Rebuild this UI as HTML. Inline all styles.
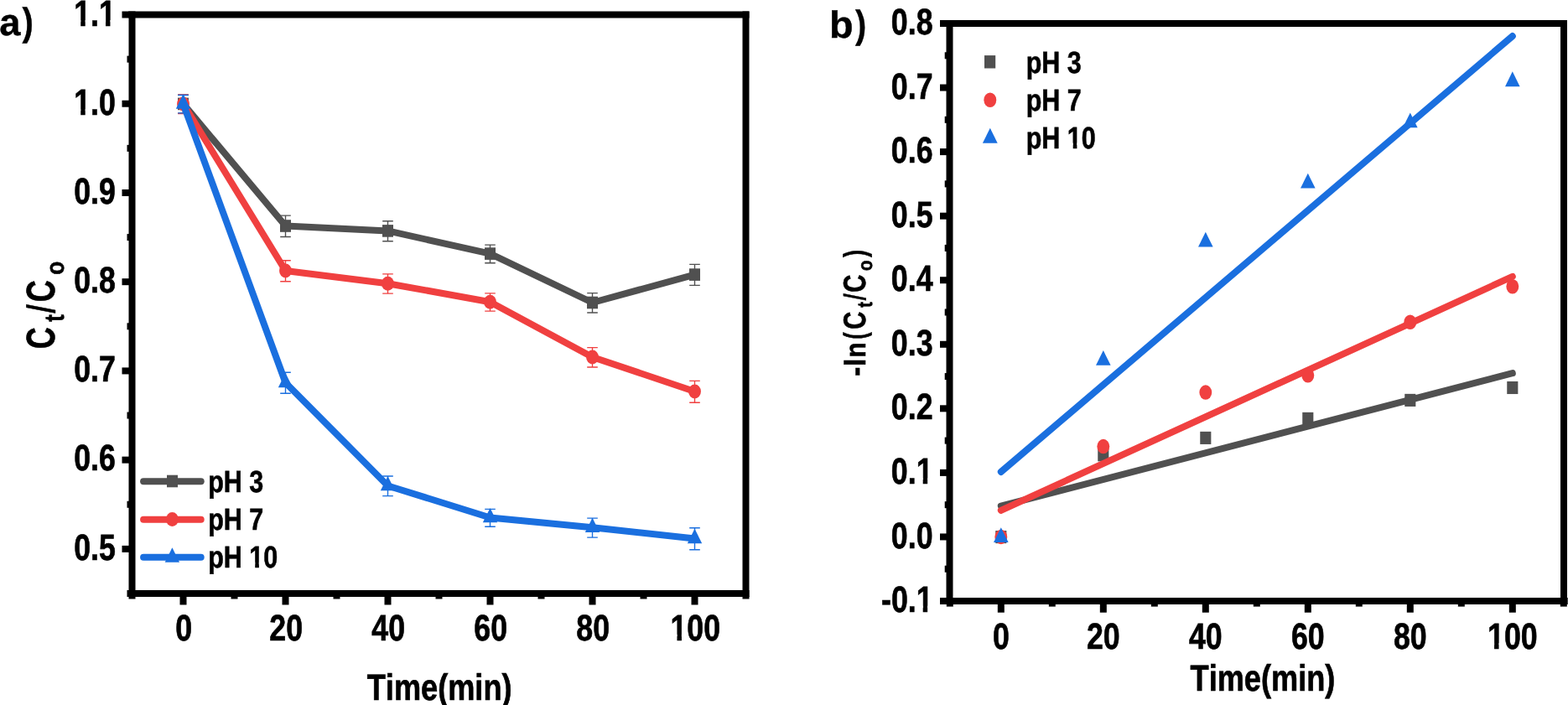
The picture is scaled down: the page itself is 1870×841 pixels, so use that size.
<!DOCTYPE html>
<html lang="en">
<head>
<meta charset="utf-8">
<title>Effect of pH: Ct/Co and -ln(Ct/Co) versus time</title>
<style>
html,body{margin:0;padding:0;background:#fff;}
body{width:1870px;height:841px;overflow:hidden;}
svg{display:block;}
text{font-family:"Liberation Sans",Arial,Helvetica,sans-serif;font-weight:bold;fill:#000;font-kerning:none;stroke-linejoin:miter;text-rendering:geometricPrecision;}
</style>
</head>
<body>
<svg width="1870" height="841" viewBox="0 0 1870 841">
<rect x="0" y="0" width="1870" height="841" fill="#fff"/>
<rect x="145.50" y="13.50" width="8.50" height="8.00" fill="#000"/>
<rect x="145.50" y="119.73" width="8.50" height="8.00" fill="#000"/>
<rect x="145.50" y="225.96" width="8.50" height="8.00" fill="#000"/>
<rect x="145.50" y="332.19" width="8.50" height="8.00" fill="#000"/>
<rect x="145.50" y="438.42" width="8.50" height="8.00" fill="#000"/>
<rect x="145.50" y="544.65" width="8.50" height="8.00" fill="#000"/>
<rect x="145.50" y="650.88" width="8.50" height="8.00" fill="#000"/>
<rect x="151.50" y="66.62" width="2.50" height="8.00" fill="#000"/>
<rect x="151.50" y="172.85" width="2.50" height="8.00" fill="#000"/>
<rect x="151.50" y="279.08" width="2.50" height="8.00" fill="#000"/>
<rect x="151.50" y="385.31" width="2.50" height="8.00" fill="#000"/>
<rect x="151.50" y="491.54" width="2.50" height="8.00" fill="#000"/>
<rect x="151.50" y="597.77" width="2.50" height="8.00" fill="#000"/>
<rect x="151.50" y="704.00" width="2.50" height="8.00" fill="#000"/>
<rect x="214.50" y="711.00" width="8.00" height="10.50" fill="#000"/>
<rect x="336.50" y="711.00" width="8.00" height="10.50" fill="#000"/>
<rect x="458.50" y="711.00" width="8.00" height="10.50" fill="#000"/>
<rect x="580.50" y="711.00" width="8.00" height="10.50" fill="#000"/>
<rect x="702.50" y="711.00" width="8.00" height="10.50" fill="#000"/>
<rect x="824.50" y="711.00" width="8.00" height="10.50" fill="#000"/>
<rect x="153.50" y="711.00" width="8.00" height="3.50" fill="#000"/>
<rect x="275.50" y="711.00" width="8.00" height="3.50" fill="#000"/>
<rect x="397.50" y="711.00" width="8.00" height="3.50" fill="#000"/>
<rect x="519.50" y="711.00" width="8.00" height="3.50" fill="#000"/>
<rect x="641.50" y="711.00" width="8.00" height="3.50" fill="#000"/>
<rect x="763.50" y="711.00" width="8.00" height="3.50" fill="#000"/>
<rect x="885.50" y="711.00" width="8.00" height="3.50" fill="#000"/>
<rect x="153.50" y="13.50" width="740.00" height="8.00" fill="#000"/>
<rect x="153.50" y="704.00" width="740.00" height="8.00" fill="#000"/>
<rect x="153.50" y="13.50" width="8.00" height="698.50" fill="#000"/>
<rect x="885.50" y="13.50" width="8.00" height="698.50" fill="#000"/>
<g transform="translate(137.80 30.85) scale(0.8150 1)">
<text font-size="43.80" text-anchor="end" stroke="#000" stroke-width="0.7">1.1</text>
<rect x="-60.48" y="-6.82" width="9.46" height="9.17" fill="#fff"/>
<rect x="-44.31" y="-6.82" width="8.91" height="9.17" fill="#fff"/>
<rect x="-23.95" y="-6.82" width="9.46" height="9.17" fill="#fff"/>
<rect x="-7.78" y="-6.82" width="8.91" height="9.17" fill="#fff"/>
</g>
<g transform="translate(137.80 137.08) scale(0.8150 1)">
<text font-size="43.80" text-anchor="end" stroke="#000" stroke-width="0.7">1.0</text>
<rect x="-60.48" y="-6.82" width="9.46" height="9.17" fill="#fff"/>
<rect x="-44.31" y="-6.82" width="8.91" height="9.17" fill="#fff"/>
</g>
<text transform="translate(137.80 243.31) scale(0.8150 1)" font-size="43.80" text-anchor="end" stroke="#000" stroke-width="0.7">0.9</text>
<text transform="translate(137.80 348.64) scale(0.8150 1)" font-size="43.80" text-anchor="end" stroke="#000" stroke-width="0.7">0.8</text>
<text transform="translate(137.80 455.02) scale(0.8150 1)" font-size="43.80" text-anchor="end" stroke="#000" stroke-width="0.7">0.7</text>
<text transform="translate(137.80 561.05) scale(0.8150 1)" font-size="43.80" text-anchor="end" stroke="#000" stroke-width="0.7">0.6</text>
<text transform="translate(137.80 668.23) scale(0.8150 1)" font-size="43.80" text-anchor="end" stroke="#000" stroke-width="0.7">0.5</text>
<text transform="translate(219.20 763.60) scale(0.8150 1)" font-size="43.80" text-anchor="middle" stroke="#000" stroke-width="0.7">0</text>
<text transform="translate(341.20 763.60) scale(0.8150 1)" font-size="43.80" text-anchor="middle" stroke="#000" stroke-width="0.7">20</text>
<text transform="translate(463.20 763.60) scale(0.8150 1)" font-size="43.80" text-anchor="middle" stroke="#000" stroke-width="0.7">40</text>
<text transform="translate(585.20 763.60) scale(0.8150 1)" font-size="43.80" text-anchor="middle" stroke="#000" stroke-width="0.7">60</text>
<text transform="translate(707.20 763.60) scale(0.8150 1)" font-size="43.80" text-anchor="middle" stroke="#000" stroke-width="0.7">80</text>
<g transform="translate(829.20 763.60) scale(0.8150 1)">
<text font-size="43.80" text-anchor="middle" stroke="#000" stroke-width="0.7">100</text>
<rect x="-36.13" y="-6.82" width="9.46" height="9.17" fill="#fff"/>
<rect x="-19.96" y="-6.82" width="8.91" height="9.17" fill="#fff"/>
</g>
<text transform="translate(524.15 834.65) scale(0.8220 1)" font-size="44.00" text-anchor="middle" stroke="#000" stroke-width="0.7">Time(min)</text>
<g role="img" aria-label="a)"><text transform="translate(-0.72 41.76) scale(1.0025 1)" font-size="45.09" stroke="#000" stroke-width="0.4">a</text><text transform="translate(26.43 42.16) scale(0.8586 1)" font-size="46.45" stroke="#000" stroke-width="0.4">)</text></g>
<g role="img" aria-label="Ct/Co"><text transform="translate(65.13 416.27) rotate(-90) scale(0.7485 1)" font-size="48.02" stroke="#000" stroke-width="0.6">C</text><text transform="translate(75.66 383.71) rotate(-90) scale(0.7904 1)" font-size="32.60" stroke="#000" stroke-width="0.6">t</text><text transform="translate(64.87 373.87) rotate(-90) skewX(-4.20) scale(0.6446 1)" font-size="46.33" stroke="#000" stroke-width="0.6">/</text><text transform="translate(65.13 360.33) rotate(-90) scale(0.7501 1)" font-size="48.02" stroke="#000" stroke-width="0.6">C</text><text transform="translate(75.66 327.72) rotate(-90) scale(0.8695 1)" font-size="30.12" stroke="#000" stroke-width="0.6">o</text></g>
<polyline points="218.50,123.90 340.50,269.50 462.50,275.40 584.50,302.60 706.50,361.00 828.50,327.60" fill="none" stroke="#505050" stroke-width="8" stroke-linejoin="round" stroke-linecap="butt"/>
<path d="M218.50 113.20V135.20M212.20 113.20h12.6M212.20 135.20h12.6" stroke="#505050" stroke-width="1.4" fill="none"/>
<rect x="212.00" y="116.60" width="13.00" height="14.60" fill="#505050"/>
<path d="M340.50 257.10V282.50M334.20 257.10h12.6M334.20 282.50h12.6" stroke="#505050" stroke-width="1.4" fill="none"/>
<rect x="334.00" y="262.20" width="13.00" height="14.60" fill="#505050"/>
<path d="M462.50 263.70V287.70M456.20 263.70h12.6M456.20 287.70h12.6" stroke="#505050" stroke-width="1.4" fill="none"/>
<rect x="456.00" y="268.10" width="13.00" height="14.60" fill="#505050"/>
<path d="M584.50 292.10V313.70M578.20 292.10h12.6M578.20 313.70h12.6" stroke="#505050" stroke-width="1.4" fill="none"/>
<rect x="578.00" y="295.30" width="13.00" height="14.60" fill="#505050"/>
<path d="M706.50 349.60V373.00M700.20 349.60h12.6M700.20 373.00h12.6" stroke="#505050" stroke-width="1.4" fill="none"/>
<rect x="700.00" y="353.70" width="13.00" height="14.60" fill="#505050"/>
<path d="M828.50 315.40V340.40M822.20 315.40h12.6M822.20 340.40h12.6" stroke="#505050" stroke-width="1.4" fill="none"/>
<rect x="822.00" y="320.30" width="13.00" height="14.60" fill="#505050"/>
<polyline points="218.50,123.90 340.50,323.00 462.50,338.20 584.50,360.20 706.50,426.00 828.50,467.00" fill="none" stroke="#f04040" stroke-width="8" stroke-linejoin="round" stroke-linecap="butt"/>
<path d="M218.50 112.90V135.50M212.20 112.90h12.6M212.20 135.50h12.6" stroke="#f04040" stroke-width="1.4" fill="none"/>
<ellipse cx="218.50" cy="123.90" rx="7.45" ry="8.5" fill="#f04040"/>
<path d="M340.50 310.80V335.80M334.20 310.80h12.6M334.20 335.80h12.6" stroke="#f04040" stroke-width="1.4" fill="none"/>
<ellipse cx="340.50" cy="323.00" rx="7.45" ry="8.5" fill="#f04040"/>
<path d="M462.50 326.90V350.10M456.20 326.90h12.6M456.20 350.10h12.6" stroke="#f04040" stroke-width="1.4" fill="none"/>
<ellipse cx="462.50" cy="338.20" rx="7.45" ry="8.5" fill="#f04040"/>
<path d="M584.50 349.90V371.10M578.20 349.90h12.6M578.20 371.10h12.6" stroke="#f04040" stroke-width="1.4" fill="none"/>
<ellipse cx="584.50" cy="360.20" rx="7.45" ry="8.5" fill="#f04040"/>
<path d="M706.50 414.60V438.00M700.20 414.60h12.6M700.20 438.00h12.6" stroke="#f04040" stroke-width="1.4" fill="none"/>
<ellipse cx="706.50" cy="426.00" rx="7.45" ry="8.5" fill="#f04040"/>
<path d="M828.50 454.40V480.20M822.20 454.40h12.6M822.20 480.20h12.6" stroke="#f04040" stroke-width="1.4" fill="none"/>
<ellipse cx="828.50" cy="467.00" rx="7.45" ry="8.5" fill="#f04040"/>
<polyline points="218.50,123.90 340.50,456.50 462.50,579.50 584.50,617.50 706.50,629.30 828.50,642.40" fill="none" stroke="#1a6fdf" stroke-width="8" stroke-linejoin="round" stroke-linecap="butt"/>
<path d="M218.50 113.50V134.90M212.20 113.50h12.6M212.20 134.90h12.6" stroke="#1a6fdf" stroke-width="1.4" fill="none"/>
<polygon points="218.50,112.30 227.20,129.70 209.80,129.70" fill="#1a6fdf"/>
<path d="M340.50 444.30V469.30M334.20 444.30h12.6M334.20 469.30h12.6" stroke="#1a6fdf" stroke-width="1.4" fill="none"/>
<polygon points="340.50,444.90 349.20,462.30 331.80,462.30" fill="#1a6fdf"/>
<path d="M462.50 568.00V591.60M456.20 568.00h12.6M456.20 591.60h12.6" stroke="#1a6fdf" stroke-width="1.4" fill="none"/>
<polygon points="462.50,567.90 471.20,585.30 453.80,585.30" fill="#1a6fdf"/>
<path d="M584.50 607.40V628.20M578.20 607.40h12.6M578.20 628.20h12.6" stroke="#1a6fdf" stroke-width="1.4" fill="none"/>
<polygon points="584.50,605.90 593.20,623.30 575.80,623.30" fill="#1a6fdf"/>
<path d="M706.50 618.10V641.10M700.20 618.10h12.6M700.20 641.10h12.6" stroke="#1a6fdf" stroke-width="1.4" fill="none"/>
<polygon points="706.50,617.70 715.20,635.10 697.80,635.10" fill="#1a6fdf"/>
<path d="M828.50 629.70V655.70M822.20 629.70h12.6M822.20 655.70h12.6" stroke="#1a6fdf" stroke-width="1.4" fill="none"/>
<polygon points="828.50,630.80 837.20,648.20 819.80,648.20" fill="#1a6fdf"/>
<line x1="171.1" y1="574.2" x2="239.7" y2="574.2" stroke="#505050" stroke-width="8" stroke-linecap="round"/>
<rect x="199.00" y="566.70" width="13.00" height="14.60" fill="#505050"/>
<line x1="171.1" y1="619.7" x2="239.7" y2="619.7" stroke="#f04040" stroke-width="8" stroke-linecap="round"/>
<ellipse cx="205.40" cy="619.40" rx="7.45" ry="8.5" fill="#f04040"/>
<line x1="171.1" y1="664.7" x2="239.7" y2="664.7" stroke="#1a6fdf" stroke-width="8" stroke-linecap="round"/>
<polygon points="205.40,653.30 214.10,670.70 196.70,670.70" fill="#1a6fdf"/>
<text transform="translate(248.25 586.60) scale(0.8350 1)" font-size="36.50" text-anchor="start" stroke="#000" stroke-width="0.6">pH 3</text>
<text transform="translate(248.25 631.50) scale(0.8350 1)" font-size="36.50" text-anchor="start" stroke="#000" stroke-width="0.6">pH 7</text>
<g transform="translate(248.25 676.60) scale(0.8350 1)">
<text font-size="36.50" text-anchor="start" stroke="#000" stroke-width="0.6">pH 10</text>
<rect x="58.79" y="-6.02" width="8.22" height="8.32" fill="#fff"/>
<rect x="72.62" y="-6.02" width="7.52" height="8.32" fill="#fff"/>
</g>
<rect x="1121.00" y="24.00" width="8.00" height="8.00" fill="#000"/>
<rect x="1121.00" y="100.56" width="8.00" height="8.00" fill="#000"/>
<rect x="1121.00" y="177.11" width="8.00" height="8.00" fill="#000"/>
<rect x="1121.00" y="253.67" width="8.00" height="8.00" fill="#000"/>
<rect x="1121.00" y="330.22" width="8.00" height="8.00" fill="#000"/>
<rect x="1121.00" y="406.78" width="8.00" height="8.00" fill="#000"/>
<rect x="1121.00" y="483.33" width="8.00" height="8.00" fill="#000"/>
<rect x="1121.00" y="559.89" width="8.00" height="8.00" fill="#000"/>
<rect x="1121.00" y="636.44" width="8.00" height="8.00" fill="#000"/>
<rect x="1121.00" y="713.00" width="8.00" height="8.00" fill="#000"/>
<rect x="1126.70" y="62.28" width="2.30" height="8.00" fill="#000"/>
<rect x="1126.70" y="138.83" width="2.30" height="8.00" fill="#000"/>
<rect x="1126.70" y="215.39" width="2.30" height="8.00" fill="#000"/>
<rect x="1126.70" y="291.94" width="2.30" height="8.00" fill="#000"/>
<rect x="1126.70" y="368.50" width="2.30" height="8.00" fill="#000"/>
<rect x="1126.70" y="445.06" width="2.30" height="8.00" fill="#000"/>
<rect x="1126.70" y="521.61" width="2.30" height="8.00" fill="#000"/>
<rect x="1126.70" y="598.17" width="2.30" height="8.00" fill="#000"/>
<rect x="1126.70" y="674.72" width="2.30" height="8.00" fill="#000"/>
<rect x="1189.80" y="720.00" width="8.00" height="10.70" fill="#000"/>
<rect x="1311.80" y="720.00" width="8.00" height="10.70" fill="#000"/>
<rect x="1433.80" y="720.00" width="8.00" height="10.70" fill="#000"/>
<rect x="1555.80" y="720.00" width="8.00" height="10.70" fill="#000"/>
<rect x="1677.80" y="720.00" width="8.00" height="10.70" fill="#000"/>
<rect x="1799.80" y="720.00" width="8.00" height="10.70" fill="#000"/>
<rect x="1128.80" y="720.00" width="8.00" height="3.60" fill="#000"/>
<rect x="1250.80" y="720.00" width="8.00" height="3.60" fill="#000"/>
<rect x="1372.80" y="720.00" width="8.00" height="3.60" fill="#000"/>
<rect x="1494.80" y="720.00" width="8.00" height="3.60" fill="#000"/>
<rect x="1616.80" y="720.00" width="8.00" height="3.60" fill="#000"/>
<rect x="1738.80" y="720.00" width="8.00" height="3.60" fill="#000"/>
<rect x="1860.80" y="720.00" width="8.00" height="3.60" fill="#000"/>
<rect x="1128.50" y="24.00" width="740.50" height="8.00" fill="#000"/>
<rect x="1128.50" y="713.00" width="741.20" height="8.00" fill="#000"/>
<rect x="1128.50" y="24.00" width="8.00" height="697.00" fill="#000"/>
<rect x="1861.00" y="24.00" width="8.00" height="697.00" fill="#000"/>
<text transform="translate(1112.50 40.50) scale(0.8150 1)" font-size="43.80" text-anchor="end" stroke="#000" stroke-width="0.7">0.8</text>
<text transform="translate(1112.50 117.96) scale(0.8150 1)" font-size="43.80" text-anchor="end" stroke="#000" stroke-width="0.7">0.7</text>
<text transform="translate(1112.50 193.61) scale(0.8150 1)" font-size="43.80" text-anchor="end" stroke="#000" stroke-width="0.7">0.6</text>
<text transform="translate(1112.50 271.07) scale(0.8150 1)" font-size="43.80" text-anchor="end" stroke="#000" stroke-width="0.7">0.5</text>
<text transform="translate(1112.50 346.72) scale(0.8150 1)" font-size="43.80" text-anchor="end" stroke="#000" stroke-width="0.7">0.4</text>
<text transform="translate(1112.50 424.18) scale(0.8150 1)" font-size="43.80" text-anchor="end" stroke="#000" stroke-width="0.7">0.3</text>
<text transform="translate(1112.50 499.93) scale(0.8150 1)" font-size="43.80" text-anchor="end" stroke="#000" stroke-width="0.7">0.2</text>
<g transform="translate(1112.50 577.29) scale(0.8150 1)">
<text font-size="43.80" text-anchor="end" stroke="#000" stroke-width="0.7">0.1</text>
<rect x="-23.95" y="-6.82" width="9.46" height="9.17" fill="#fff"/>
<rect x="-7.78" y="-6.82" width="8.91" height="9.17" fill="#fff"/>
</g>
<text transform="translate(1112.50 653.74) scale(0.8150 1)" font-size="43.80" text-anchor="end" stroke="#000" stroke-width="0.7">0.0</text>
<g transform="translate(1112.50 729.50) scale(0.8150 1)">
<text font-size="43.80" text-anchor="end" stroke="#000" stroke-width="0.7">-0.1</text>
<rect x="-23.95" y="-6.82" width="9.46" height="9.17" fill="#fff"/>
<rect x="-7.78" y="-6.82" width="8.91" height="9.17" fill="#fff"/>
</g>
<text transform="translate(1193.80 774.10) scale(0.8150 1)" font-size="43.80" text-anchor="middle" stroke="#000" stroke-width="0.7">0</text>
<text transform="translate(1315.80 774.10) scale(0.8150 1)" font-size="43.80" text-anchor="middle" stroke="#000" stroke-width="0.7">20</text>
<text transform="translate(1437.80 774.10) scale(0.8150 1)" font-size="43.80" text-anchor="middle" stroke="#000" stroke-width="0.7">40</text>
<text transform="translate(1559.80 774.10) scale(0.8150 1)" font-size="43.80" text-anchor="middle" stroke="#000" stroke-width="0.7">60</text>
<text transform="translate(1681.80 774.10) scale(0.8150 1)" font-size="43.80" text-anchor="middle" stroke="#000" stroke-width="0.7">80</text>
<g transform="translate(1803.80 774.10) scale(0.8150 1)">
<text font-size="43.80" text-anchor="middle" stroke="#000" stroke-width="0.7">100</text>
<rect x="-36.13" y="-6.82" width="9.46" height="9.17" fill="#fff"/>
<rect x="-19.96" y="-6.82" width="8.91" height="9.17" fill="#fff"/>
</g>
<text transform="translate(1505.95 823.55) scale(0.8220 1)" font-size="44.00" text-anchor="middle" stroke="#000" stroke-width="0.7">Time(min)</text>
<g role="img" aria-label="b)"><text transform="translate(989.02 44.96) scale(1.0323 1)" font-size="45.34" stroke="#000" stroke-width="0.4">b</text><text transform="translate(1019.93 45.16) scale(0.8512 1)" font-size="46.45" stroke="#000" stroke-width="0.4">)</text></g>
<g role="img" aria-label="-ln(Ct/Co)"><text transform="translate(1032.78 449.04) rotate(-90) scale(0.8686 1)" font-size="39.45" stroke="#000" stroke-width="0.4">-</text><text transform="translate(1031.76 437.24) rotate(-90) scale(0.9976 1)" font-size="35.07" stroke="#000" stroke-width="0.6">l</text><text transform="translate(1031.76 426.56) rotate(-90) scale(0.8670 1)" font-size="34.28" stroke="#000" stroke-width="0.6">n</text><text transform="translate(1032.23 404.42) rotate(-90) scale(0.6703 1)" font-size="36.48" stroke="#000" stroke-width="0.6">(</text><text transform="translate(1032.14 392.65) rotate(-90) scale(0.7855 1)" font-size="37.29" stroke="#000" stroke-width="0.6">C</text><text transform="translate(1039.88 366.84) rotate(-90) scale(0.7920 1)" font-size="24.96" stroke="#000" stroke-width="0.6">t</text><text transform="translate(1031.78 358.57) rotate(-90) skewX(-4.37) scale(0.6402 1)" font-size="35.99" stroke="#000" stroke-width="0.6">/</text><text transform="translate(1032.13 348.80) rotate(-90) scale(0.7846 1)" font-size="37.43" stroke="#000" stroke-width="0.6">C</text><text transform="translate(1040.36 322.90) rotate(-90) scale(0.8492 1)" font-size="24.09" stroke="#000" stroke-width="0.6">o</text><text transform="translate(1032.09 306.83) rotate(-90) scale(0.7243 1)" font-size="36.69" stroke="#000" stroke-width="0.6">)</text></g>
<rect x="1187.25" y="633.05" width="13.10" height="15.10" fill="#505050"/>
<rect x="1309.25" y="535.25" width="13.10" height="15.10" fill="#505050"/>
<rect x="1431.25" y="514.85" width="13.10" height="15.10" fill="#505050"/>
<rect x="1553.25" y="491.85" width="13.10" height="15.10" fill="#505050"/>
<rect x="1675.25" y="469.85" width="13.10" height="15.10" fill="#505050"/>
<rect x="1797.25" y="454.95" width="13.10" height="15.10" fill="#505050"/>
<line x1="1193.80" y1="603.6" x2="1803.80" y2="445.2" stroke="#505050" stroke-width="8" stroke-linecap="round"/>
<ellipse cx="1193.80" cy="640.40" rx="7.45" ry="8.75" fill="#f04040"/>
<ellipse cx="1315.80" cy="532.60" rx="7.45" ry="8.75" fill="#f04040"/>
<ellipse cx="1437.80" cy="468.10" rx="7.45" ry="8.75" fill="#f04040"/>
<ellipse cx="1559.80" cy="447.80" rx="7.45" ry="8.75" fill="#f04040"/>
<ellipse cx="1681.80" cy="384.30" rx="7.45" ry="8.75" fill="#f04040"/>
<ellipse cx="1803.80" cy="341.80" rx="7.45" ry="8.75" fill="#f04040"/>
<line x1="1193.80" y1="608.8" x2="1803.80" y2="329.9" stroke="#f04040" stroke-width="8" stroke-linecap="round"/>
<polygon points="1193.80,629.23 1202.60,647.03 1185.00,647.03" fill="#1a6fdf"/>
<polygon points="1315.80,418.03 1324.60,435.83 1307.00,435.83" fill="#1a6fdf"/>
<polygon points="1437.80,276.63 1446.60,294.43 1429.00,294.43" fill="#1a6fdf"/>
<polygon points="1559.80,206.73 1568.60,224.53 1551.00,224.53" fill="#1a6fdf"/>
<polygon points="1681.80,134.43 1690.60,152.23 1673.00,152.23" fill="#1a6fdf"/>
<polygon points="1803.80,85.33 1812.60,103.13 1795.00,103.13" fill="#1a6fdf"/>
<line x1="1193.80" y1="562.9" x2="1803.80" y2="43.1" stroke="#1a6fdf" stroke-width="8" stroke-linecap="round"/>
<rect x="1174.00" y="66.10" width="13.20" height="15.40" fill="#505050"/>
<ellipse cx="1180.80" cy="119.20" rx="7.45" ry="8.75" fill="#f04040"/>
<polygon points="1180.80,152.83 1189.70,170.63 1171.90,170.63" fill="#1a6fdf"/>
<text transform="translate(1223.75 86.60) scale(0.8350 1)" font-size="36.50" text-anchor="start" stroke="#000" stroke-width="0.6">pH 3</text>
<text transform="translate(1223.75 131.50) scale(0.8350 1)" font-size="36.50" text-anchor="start" stroke="#000" stroke-width="0.6">pH 7</text>
<g transform="translate(1223.75 176.60) scale(0.8350 1)">
<text font-size="36.50" text-anchor="start" stroke="#000" stroke-width="0.6">pH 10</text>
<rect x="58.79" y="-6.02" width="8.22" height="8.32" fill="#fff"/>
<rect x="72.62" y="-6.02" width="7.52" height="8.32" fill="#fff"/>
</g>
</svg>
</body>
</html>
